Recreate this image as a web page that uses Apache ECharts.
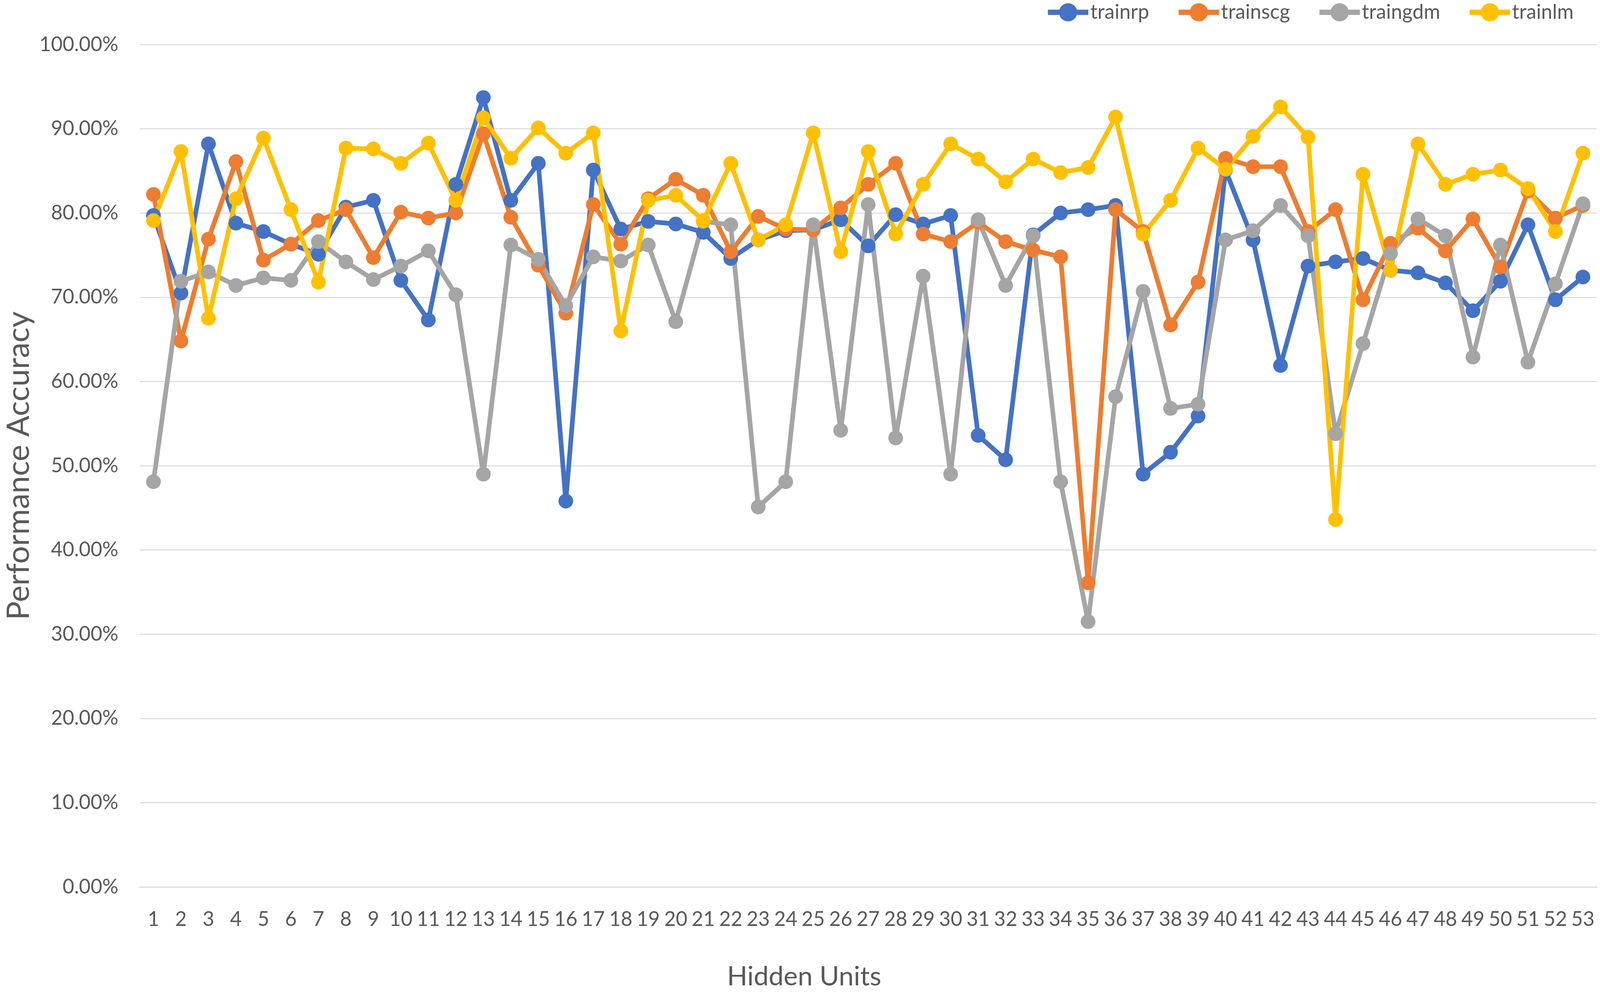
<!DOCTYPE html>
<html>
<head>
<meta charset="utf-8">
<title>Performance Accuracy</title>
<style>
	html, body { margin: 0; padding: 0; background: #fff; overflow: hidden; }
	#chart { width: 100vw; height: 100vh; }
</style>
</head>
<body>
<div id="chart"></div>
<script src="https://cdn.jsdelivr.net/npm/echarts@6/dist/echarts.min.js"></script>
<script>
var hiddenUnits = [];
for (var i = 1; i <= 53; i++) hiddenUnits.push(String(i));

var seriesNames = ['trainrp', 'trainscg', 'traingdm', 'trainlm'];
var seriesColors = ['#4472C4', '#ED7D31', '#A5A5A5', '#FFC000'];

// accuracy in percent, one value per hidden unit count
var trainrp = [79.7, 70.5, 88.2, 78.8, 77.8, 76.3, 75.1, 80.7, 81.5, 72.0,
	67.3, 83.4, 93.7, 81.5, 85.9, 45.8, 85.1, 78.1, 79.0, 78.7,
	77.7, 74.6, 76.8, 77.9, 78.0, 79.2, 76.1, 79.8, 78.7, 79.7,
	53.6, 50.7, 77.4, 80.0, 80.4, 80.9, 49.0, 51.6, 55.9, 85.1,
	76.8, 61.9, 73.7, 74.2, 74.6, 73.2, 72.9, 71.7, 68.4, 71.9,
	78.6, 69.7, 72.4];
var trainscg = [82.2, 64.8, 76.9, 86.1, 74.4, 76.3, 79.1, 80.4, 74.7, 80.1,
	79.4, 80.0, 89.4, 79.5, 73.8, 68.1, 81.0, 76.3, 81.7, 84.0,
	82.1, 75.4, 79.6, 78.1, 78.0, 80.6, 83.4, 85.9, 77.5, 76.6,
	78.9, 76.6, 75.6, 74.8, 36.1, 80.4, 77.8, 66.7, 71.8, 86.5,
	85.5, 85.5, 77.8, 80.4, 69.7, 76.4, 78.2, 75.5, 79.3, 73.6,
	82.6, 79.4, 80.9];
var traingdm = [48.1, 71.9, 73.0, 71.4, 72.3, 72.0, 76.6, 74.2, 72.1, 73.7,
	75.5, 70.3, 49.0, 76.2, 74.5, 69.0, 74.8, 74.3, 76.2, 67.1,
	79.0, 78.6, 45.1, 48.1, 78.6, 54.2, 81.0, 53.3, 72.5, 49.0,
	79.2, 71.4, 77.3, 48.1, 31.5, 58.2, 70.7, 56.8, 57.3, 76.8,
	77.9, 80.9, 77.3, 53.8, 64.5, 75.2, 79.3, 77.3, 62.9, 76.2,
	62.3, 71.6, 81.1];
var trainlm = [79.1, 87.3, 67.5, 81.7, 88.9, 80.4, 71.8, 87.7, 87.6, 85.9,
	88.3, 81.5, 91.3, 86.5, 90.1, 87.1, 89.5, 66.0, 81.5, 82.1,
	79.1, 85.9, 76.8, 78.6, 89.5, 75.4, 87.3, 77.5, 83.4, 88.2,
	86.4, 83.7, 86.4, 84.8, 85.4, 91.4, 77.5, 81.5, 87.7, 85.2,
	89.1, 92.6, 89.0, 43.6, 84.6, 73.2, 88.2, 83.4, 84.6, 85.1,
	82.9, 77.8, 87.1];

var seriesData = [trainrp, trainscg, traingdm, trainlm];
var font = 'Lato, "Open Sans", sans-serif';
var textColor = '#595959';

// layout was measured on a 4785 x 2539 canvas, scale it to the real viewport
var el = document.getElementById('chart');
var sx = el.clientWidth / 4785;
var sy = el.clientHeight / 2539;
var s = Math.min(sx, sy);

var series = [];
for (var k = 0; k < seriesNames.length; k++) {
	series.push({
		name: seriesNames[k],
		type: 'line',
		data: seriesData[k],
		symbol: 'circle',
		symbolSize: 44 * s,
		showAllSymbol: true,
		animation: false,
		lineStyle: { width: 14 * s, color: seriesColors[k] },
		itemStyle: { color: seriesColors[k] }
	});
}

var chart = echarts.init(el);
chart.setOption({
	color: seriesColors,
	textStyle: { fontFamily: font },
	legend: {
		data: seriesNames,
		right: 79 * sx,
		top: 6 * sy,
		padding: 0,
		itemWidth: 121 * s,
		itemHeight: 68 * s,
		itemGap: 80 * s,
		lineStyle: { width: 16 * s },
		textStyle: { fontSize: 60 * s, color: textColor, fontFamily: font }
	},
	grid: { left: 403 * sx, right: 10 * sx, top: 114 * sy, bottom: 269 * sy },
	xAxis: {
		type: 'category',
		data: hiddenUnits,
		boundaryGap: true,
		axisTick: { show: false },
		axisLine: { lineStyle: { color: '#D9D9D9', width: 3 * s } },
		axisLabel: { interval: 0, fontSize: 60 * s, color: textColor, margin: 58 * sy, fontFamily: font }
	},
	yAxis: {
		type: 'value',
		min: 0,
		max: 100,
		interval: 10,
		name: 'Performance Accuracy',
		nameLocation: 'middle',
		nameRotate: 90,
		nameGap: 315 * sx,
		nameTextStyle: { fontSize: 80 * sy, color: textColor, fontFamily: font },
		axisLine: { show: false },
		axisTick: { show: false },
		splitLine: { lineStyle: { color: '#D9D9D9', width: 3 * s } },
		axisLabel: {
			fontSize: 60 * s,
			color: textColor,
			margin: 64 * sx,
			fontFamily: font,
			formatter: function (v) { return v.toFixed(2) + '%'; }
		}
	},
	graphic: [{
		type: 'text',
		x: 2405 * sx,
		y: 2500 * sy,
		style: {
			text: 'Hidden Units',
			font: (80 * s) + 'px ' + font,
			fill: textColor,
			textAlign: 'center',
			textVerticalAlign: 'middle'
		}
	}],
	series: series
});
</script>
</body>
</html>
